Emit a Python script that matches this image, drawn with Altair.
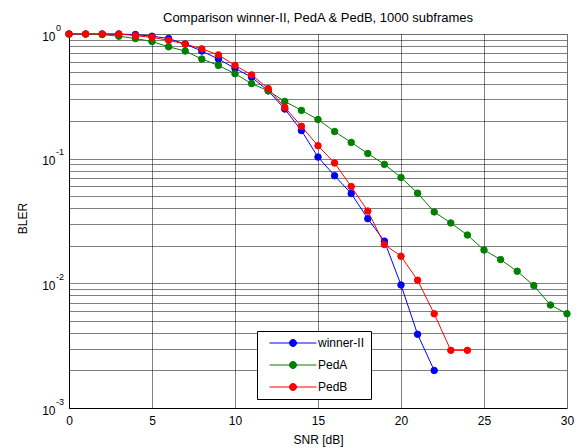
import altair as alt
import pandas as pd

FONT = "Liberation Sans"

snr_winner = list(range(0, 23))
bler_winner = [1.0, 1.0, 1.0, 1.0, 0.99, 0.96, 0.92, 0.83, 0.73, 0.63, 0.53, 0.45,
               0.35, 0.25, 0.168, 0.103, 0.073, 0.0525, 0.033, 0.0218, 0.0097,
               0.0039, 0.002]

snr_peda = list(range(0, 31))
bler_peda = [1.0, 1.0, 0.99, 0.96, 0.92, 0.87, 0.79, 0.73, 0.63, 0.56, 0.48, 0.40,
             0.35, 0.288, 0.244, 0.206, 0.165, 0.135, 0.11, 0.09, 0.0707, 0.0529,
             0.0374, 0.0305, 0.0244, 0.0185, 0.0155, 0.0125, 0.0096, 0.0067, 0.0057]

snr_pedb = list(range(0, 25))
bler_pedb = [1.0, 1.0, 1.0, 1.0, 0.97, 0.94, 0.89, 0.83, 0.76, 0.68, 0.56, 0.47,
             0.365, 0.258, 0.182, 0.127, 0.0923, 0.0598, 0.038, 0.0205, 0.0165,
             0.0106, 0.0057, 0.0029, 0.0029]

series_names = ["winner-II", "PedA", "PedB"]
series_colors = ["#0000FF", "#008000", "#FF0000"]

x_ticks = [0, 5, 10, 15, 20, 25, 30]
y_grid = sorted({round(k * 10 ** e, 6) for e in (-3, -2, -1) for k in range(1, 10)} | {1.0})
exp_values = [1.0, 0.1, 0.01, 0.001]
exp_labels = ["0", "-1", "-2", "-3"]

rows = []
for name, xs, ys in [("winner-II", snr_winner, bler_winner),
                     ("PedA", snr_peda, bler_peda),
                     ("PedB", snr_pedb, bler_pedb)]:
    for xv, yv in zip(xs, ys):
        rows.append({"series": name, "snr": xv, "bler": yv})
df = pd.DataFrame(rows)
exp_df = pd.DataFrame({"bler": exp_values, "label": exp_labels})

xscale = alt.Scale(domain=[0, 30], nice=False)
yscale = alt.Scale(type="log", domain=[0.001, 1], nice=False)
cscale = alt.Scale(domain=series_names, range=series_colors)

xaxis = alt.Axis(values=x_ticks, grid=True, ticks=False, labelPadding=7,
                 labelFontSize=12, titleFontSize=12, titleFontWeight="normal",
                 labelFont=FONT, titleFont=FONT, labelColor="black", titleColor="black",
                 domainColor="black", gridColor="black", gridDash=[1, 1], gridOpacity=1,
                 titleY=31, titleBaseline="middle", labelFlush=False)
yaxis = alt.Axis(values=y_grid, grid=True, ticks=False, labelPadding=14, labelOffset=2,
                 labelExpr="abs(log(datum.value)/LN10 - round(log(datum.value)/LN10)) < 0.001 ? '10' : ''",
                 labelFontSize=12, titleFontSize=12, titleFontWeight="normal",
                 labelFont=FONT, titleFont=FONT, labelColor="black", titleColor="black",
                 domainColor="black", gridColor="black", gridDash=[1, 1], gridOpacity=1,
                 titleX=-47, titleY=184, titleBaseline="middle", labelFlush=False,
                 labelOverlap=False)

legend_path = ("M-4.7,0L4.7,0M0.7,0A0.7,0.7,0,1,1,-0.7,0"
               "A0.7,0.7,0,1,1,0.7,0Z")
legend_def = alt.Legend(title=None, orient="none", legendX=188, legendY=297,
                        symbolType=legend_path, symbolSize=100, symbolStrokeWidth=1,
                        symbolOffset=24, labelOffset=19, rowPadding=10, padding=6,
                        labelFontSize=12, labelFont=FONT, labelColor="black",
                        strokeColor="black", fillColor="white")

X = alt.X("snr:Q", scale=xscale, axis=xaxis, title="SNR [dB]")
Y = alt.Y("bler:Q", scale=yscale, axis=yaxis, title="BLER")

layers = []
for name in series_names:
    base = alt.Chart(df).transform_filter(alt.datum.series == name)
    line = base.mark_line(strokeWidth=1).encode(
        x=X, y=Y,
        stroke=alt.Stroke("series:N", scale=cscale, legend=legend_def),
    )
    pts = base.mark_point(filled=True, size=42, strokeWidth=1, opacity=1).encode(
        x=X, y=Y,
        stroke=alt.Stroke("series:N", scale=cscale, legend=legend_def),
        fill=alt.Fill("series:N", scale=cscale, legend=legend_def),
    )
    layers += [line, pts]

exp_text = alt.Chart(exp_df).mark_text(align="left", baseline="middle", fontSize=9,
                                       dy=-6.5, font=FONT, color="black").encode(
    x=alt.value(-13),
    y=alt.Y("bler:Q", scale=yscale, axis=yaxis, title="BLER"),
    text="label:N",
)

chart = alt.layer(*layers, exp_text).properties(
    width=498, height=374,
    autosize=alt.AutoSizeParams(type="none"),
    padding={"left": 69, "top": 34, "right": 13, "bottom": 40},
    title=alt.TitleParams("Comparison winner-II, PedA & PedB, 1000 subframes",
                          fontSize=13, fontWeight="normal", font=FONT, color="black",
                          anchor="middle", offset=11, dy=12),
).configure_view(stroke="black", strokeWidth=1).configure(background="white")

chart.save("out.html", embed_options={"renderer": "svg", "actions": False})
